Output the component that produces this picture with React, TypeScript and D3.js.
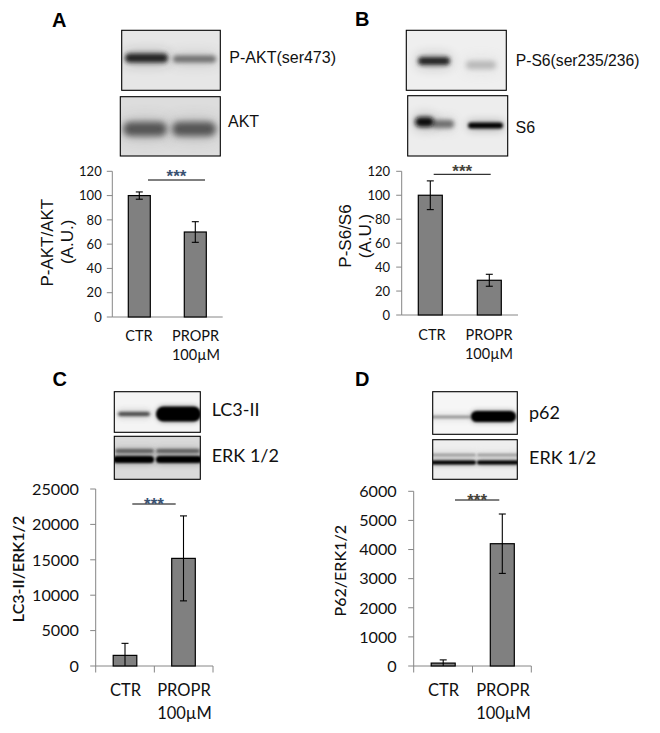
import React from "react";
import * as d3 from "d3";

const categories = ["CTR", "PROPR"];
const secondLine = "100µM";

const aValues = [100, 70];
const aErrors = [3, 8.5];
const aTicks = [0, 20, 40, 60, 80, 100, 120];

const bValues = [100, 29];
const bErrors = [12, 5];
const bTicks = [0, 20, 40, 60, 80, 100, 120];

const cValues = [1500, 15200];
const cErrors = [1700, 6000];
const cTicks = [0, 5000, 10000, 15000, 20000, 25000];

const dValues = [100, 4200];
const dErrors = [110, 1020];
const dTicks = [0, 1000, 2000, 3000, 4000, 5000, 6000];

const ARIAL = "'Liberation Sans', Arial, sans-serif";
const LATO = "Lato, sans-serif";

type Band = { x0: number; x1: number; y: number; h: number; c: string; b?: number };
type BlotSpec = { id: string; x0: number; x1: number; y0: number; y1: number; bg: string; bands: Band[] };

const blots: BlotSpec[] = [
  { id: "a1", x0: 121.7, x1: 220.3, y0: 30.3, y1: 90.3, bg: "#e6e6e6", bands: [
    { x0: 125, x1: 168, y: 58, h: 9, c: "#222", b: 2.2 },
    { x0: 173, x1: 216, y: 59, h: 7, c: "#707070", b: 2.2 } ] },
  { id: "a2", x0: 120.3, x1: 220.3, y0: 96.7, y1: 156, bg: "#dddddd", bands: [
    { x0: 123, x1: 167, y: 129, h: 14, c: "#555", b: 3 },
    { x0: 172, x1: 216, y: 129, h: 14, c: "#555", b: 3 } ] },
  { id: "b1", x0: 406.3, x1: 506.3, y0: 30.3, y1: 90.3, bg: "#efefef", bands: [
    { x0: 418, x1: 450, y: 61, h: 8, c: "#222", b: 2.2 },
    { x0: 466, x1: 496, y: 65, h: 8, c: "#b8b8b8", b: 2.5 } ] },
  { id: "b2", x0: 407.7, x1: 507.7, y0: 95.7, y1: 156, bg: "#ededed", bands: [
    { x0: 432, x1: 454, y: 124, h: 8, c: "#707070", b: 2 },
    { x0: 415, x1: 434, y: 122, h: 10, c: "#111", b: 2.2 },
    { x0: 468, x1: 503, y: 125.5, h: 6, c: "#000", b: 1.8 } ] },
  { id: "c1", x0: 114.3, x1: 200.3, y0: 391.7, y1: 432.3, bg: "#f4f4f4", bands: [
    { x0: 118, x1: 150, y: 414, h: 4, c: "#444", b: 1.4 },
    { x0: 156, x1: 201, y: 414, h: 15, c: "#000", b: 1 } ] },
  { id: "c2", x0: 114.3, x1: 200.3, y0: 436.3, y1: 479.3, bg: "#dadada", bands: [
    { x0: 115, x1: 154, y: 451, h: 4, c: "#5a5a5a", b: 1.4 },
    { x0: 156, x1: 200, y: 451, h: 4, c: "#5a5a5a", b: 1.4 },
    { x0: 113, x1: 154, y: 459.5, h: 7, c: "#000", b: 1.1 },
    { x0: 156, x1: 202, y: 459.5, h: 7, c: "#000", b: 1.1 } ] },
  { id: "d1", x0: 432.7, x1: 517.3, y0: 391.7, y1: 434.3, bg: "#f6f6f6", bands: [
    { x0: 430, x1: 472, y: 417, h: 3, c: "#999", b: 1.1 },
    { x0: 471, x1: 516, y: 416.5, h: 11, c: "#000", b: 1 } ] },
  { id: "d2", x0: 432.7, x1: 517.3, y0: 439.7, y1: 479.3, bg: "#eeeeee", bands: [
    { x0: 431, x1: 476, y: 455, h: 3, c: "#a0a0a0", b: 1.2 },
    { x0: 477, x1: 519, y: 455, h: 3, c: "#a0a0a0", b: 1.2 },
    { x0: 431, x1: 476, y: 462.5, h: 4, c: "#000", b: 0.9 },
    { x0: 477, x1: 519, y: 462.5, h: 4, c: "#000", b: 0.9 } ] },
];

function Blot({ s }: { s: BlotSpec }) {
  return (
    <g>
      <defs>
        <clipPath id={`clip-${s.id}`}>
          <rect x={s.x0} y={s.y0} width={s.x1 - s.x0} height={s.y1 - s.y0} />
        </clipPath>
        {s.bands.map((b, i) => (
          <React.Fragment key={i}>
            <filter id={`blur-${s.id}-${i}`} x="-30%" y="-200%" width="160%" height="500%">
              <feGaussianBlur stdDeviation={b.b ?? 1.5} />
            </filter>
            <filter id={`halo-${s.id}-${i}`} x="-50%" y="-400%" width="200%" height="900%">
              <feGaussianBlur stdDeviation={(b.b ?? 1.5) * 2.8} />
            </filter>
          </React.Fragment>
        ))}
      </defs>
      <rect x={s.x0} y={s.y0} width={s.x1 - s.x0} height={s.y1 - s.y0} fill={s.bg} />
      <g clipPath={`url(#clip-${s.id})`}>
        {s.bands.map((b, i) => (
          <rect key={`h${i}`} x={b.x0} y={b.y - b.h / 2 - 1} width={b.x1 - b.x0} height={b.h + 2} rx={Math.min(b.h / 2, 8)}
            fill={b.c} opacity={0.3} filter={`url(#halo-${s.id}-${i})`} />
        ))}
        {s.bands.map((b, i) => (
          <rect key={i} x={b.x0} y={b.y - b.h / 2} width={b.x1 - b.x0} height={b.h} rx={Math.min(b.h / 2, 8)}
            fill={b.c} filter={`url(#blur-${s.id}-${i})`} />
        ))}
      </g>
      <rect x={s.x0} y={s.y0} width={s.x1 - s.x0} height={s.y1 - s.y0} fill="none" stroke="#000" strokeWidth={1.1} />
    </g>
  );
}

type ChartSpec = {
  values: number[]; errors: number[]; ticks: number[];
  axisX: number; axisEnd: number; y0: number; yTop: number;
  barCenters: number[]; barWidth: number;
  tickFont: number; tickGap: number; labelFont: number; labelY: [number, number]; labelCenters: [number, number, number];
  sepTicks: boolean; sig: [number, number, number]; starColor: string; starY: number;
};

function Chart({ c }: { c: ChartSpec }) {
  const y = d3.scaleLinear().domain([0, d3.max(c.ticks) as number]).range([c.y0, c.yTop]);
  const x = d3.scaleBand<string>().domain(categories).range([c.axisX, c.axisEnd]);
  const offset = (i: number) => c.barCenters[i] - ((x(categories[i]) as number) + x.bandwidth() / 2);
  const axis = "#868686";
  return (
    <g>
      <line x1={c.axisX} x2={c.axisX} y1={c.yTop} y2={c.y0} stroke={axis} strokeWidth={1} />
      <line x1={c.axisX} x2={c.axisEnd} y1={c.y0} y2={c.y0} stroke={axis} strokeWidth={1} />
      {c.ticks.map((t) => (
        <g key={t}>
          <line x1={c.axisX - 5.5} x2={c.axisX} y1={y(t)} y2={y(t)} stroke={axis} strokeWidth={1} />
          <text x={c.axisX - c.tickGap} y={y(t) + c.tickFont * 0.36} textAnchor="end" fontFamily={LATO} fontSize={c.tickFont} fill="#111">{t}</text>
        </g>
      ))}
      {c.sepTicks && [c.axisX, (c.axisX + c.axisEnd) / 2, c.axisEnd].map((px) => (
        <line key={px} x1={px} x2={px} y1={c.y0} y2={c.y0 + 6.5} stroke={axis} strokeWidth={1} />
      ))}
      {categories.map((cat, i) => {
        const cx = (x(cat) as number) + x.bandwidth() / 2 + offset(i);
        return (
          <g key={cat}>
            <rect x={cx - c.barWidth / 2} y={y(c.values[i])} width={c.barWidth} height={c.y0 - y(c.values[i])}
              fill="#808080" stroke="#000" strokeWidth={1.2} />
            <line x1={cx} x2={cx} y1={y(c.values[i] + c.errors[i])} y2={y(Math.max(0, c.values[i] - c.errors[i]))} stroke="#000" strokeWidth={1.1} />
            <line x1={cx - 3.5} x2={cx + 3.5} y1={y(c.values[i] + c.errors[i])} y2={y(c.values[i] + c.errors[i])} stroke="#000" strokeWidth={1.1} />
            {c.values[i] - c.errors[i] > 0 && (
              <line x1={cx - 3.5} x2={cx + 3.5} y1={y(c.values[i] - c.errors[i])} y2={y(c.values[i] - c.errors[i])} stroke="#000" strokeWidth={1.1} />
            )}
          </g>
        );
      })}
      <text x={c.labelCenters[0]} y={c.labelY[0]} textAnchor="middle" fontFamily={LATO} fontSize={c.labelFont} fill="#111">{categories[0]}</text>
      <text x={c.labelCenters[1]} y={c.labelY[0]} textAnchor="middle" fontFamily={LATO} fontSize={c.labelFont} fill="#111">{categories[1]}</text>
      <text x={c.labelCenters[2]} y={c.labelY[1]} textAnchor="middle" fontFamily={LATO} fontSize={c.labelFont} fill="#111">{secondLine}</text>
      <line x1={c.sig[0]} x2={c.sig[1]} y1={c.sig[2]} y2={c.sig[2]} stroke="#000" strokeWidth={1} />
      <text x={(c.sig[0] + c.sig[1]) / 2} y={c.starY} textAnchor="middle" fontFamily={ARIAL} fontSize={17} fontWeight="bold" fill={c.starColor}>***</text>
    </g>
  );
}

const charts: ChartSpec[] = [
  { values: aValues, errors: aErrors, ticks: aTicks, axisX: 112.3, axisEnd: 222.7, y0: 317, yTop: 171.3,
    barCenters: [139.3, 195.3], barWidth: 22, tickFont: 13, tickGap: 10.6, labelFont: 14.5, labelY: [341, 360], labelCenters: [139, 195.5, 196],
    sepTicks: false, sig: [148, 205, 180], starColor: "#3a5272", starY: 182 },
  { values: bValues, errors: bErrors, ticks: bTicks, axisX: 401.7, axisEnd: 518, y0: 315, yTop: 171.3,
    barCenters: [430.3, 489.3], barWidth: 24, tickFont: 13, tickGap: 11.7, labelFont: 14.5, labelY: [340, 359], labelCenters: [432, 489, 489],
    sepTicks: false, sig: [433.7, 490.7, 174.3], starColor: "#46433a", starY: 176.5 },
  { values: cValues, errors: cErrors, ticks: cTicks, axisX: 95.7, axisEnd: 213, y0: 666, yTop: 489,
    barCenters: [125, 183.5], barWidth: 23.6, tickFont: 16.2, tickGap: 16.7, labelFont: 16.5, labelY: [696, 719], labelCenters: [125.5, 184, 184.5],
    sepTicks: true, sig: [132.3, 175.7, 504], starColor: "#3a5272", starY: 510 },
  { values: dValues, errors: dErrors, ticks: dTicks, axisX: 413.7, axisEnd: 531.3, y0: 666, yTop: 491.3,
    barCenters: [443.2, 502.3], barWidth: 24, tickFont: 16.2, tickGap: 17, labelFont: 16.5, labelY: [696, 719], labelCenters: [443.5, 503, 503.5],
    sepTicks: true, sig: [455, 499.3, 500], starColor: "#46433a", starY: 505.5 },
];

const panelLetters: [string, number, number][] = [["A", 52, 27], ["B", 355, 26], ["C", 52.5, 386], ["D", 355, 386]];
const arialLabels: [string, number, number, number][] = [
  ["P-AKT(ser473)", 229.3, 63.3, 16], ["AKT", 228, 126.7, 16],
  ["P-S6(ser235/236)", 515.7, 66, 15.7], ["S6", 515.5, 132.7, 16],
];
const latoLabels: [string, number, number][] = [
  ["LC3-II", 211.7, 415.7], ["ERK 1/2", 211.7, 462.3], ["p62", 529, 419], ["ERK 1/2", 529, 464.3],
];
const yTitles: [string, number, number, string, number, string?][] = [
  ["P-AKT/AKT", 53, 242.7, ARIAL, 17],
  ["(A.U.)", 73, 241.7, ARIAL, 17],
  ["P-S6/S6", 351, 236, ARIAL, 17],
  ["(A.U.)", 371, 236, ARIAL, 17],
  ["LC3-II/ERK1/2", 24, 569, LATO, 16, "600"],
  ["P62/ERK1/2", 346, 570.7, LATO, 16, "500"],
];

export default function App() {
  return (
    <svg width={660} height={733} viewBox="0 0 660 733" style={{ position: "absolute", left: 0, top: 0, background: "#fff" }}>
      {blots.map((s) => <Blot key={s.id} s={s} />)}
      {charts.map((c, i) => <Chart key={i} c={c} />)}
      {panelLetters.map(([t, x, y]) => (
        <text key={t} x={x} y={y} fontFamily={ARIAL} fontWeight="bold" fontSize={20} fill="#000">{t}</text>
      ))}
      {arialLabels.map(([t, x, y, f]) => (
        <text key={t} x={x} y={y} fontFamily={ARIAL} fontSize={f} fill="#111">{t}</text>
      ))}
      {latoLabels.map(([t, x, y], i) => (
        <text key={i} x={x} y={y} fontFamily={LATO} fontSize={18} fill="#111">{t}</text>
      ))}
      {yTitles.map(([t, x, y, fam, f, w], i) => (
        <text key={i} transform={`translate(${x},${y}) rotate(-90)`} textAnchor="middle" fontFamily={fam} fontSize={f} fontWeight={w ?? "normal"} fill="#111">{t}</text>
      ))}
    </svg>
  );
}
